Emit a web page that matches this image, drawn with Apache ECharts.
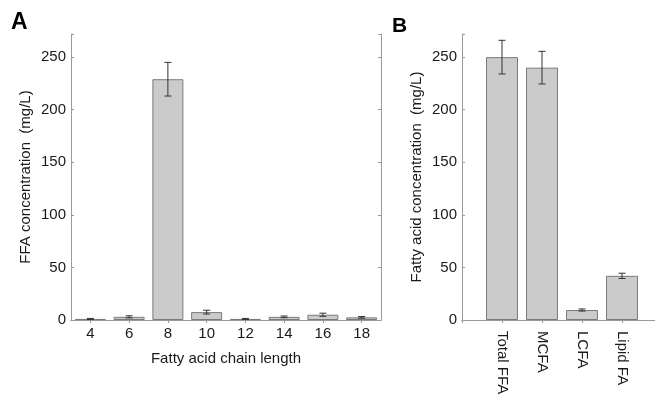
<!DOCTYPE html>
<html>
<head>
<meta charset="utf-8">
<script src="https://cdn.jsdelivr.net/npm/echarts@6/dist/echarts.min.js"></script>
<style>html,body{margin:0;padding:0;background:#fff;overflow:hidden;}#c{width:663px;height:398px;}</style>
</head>
<body>
<div id="c"></div>
<script>
// Panel A data
const chainLengths = ['4', '6', '8', '10', '12', '14', '16', '18'];
const ffaValues = [1, 3, 229, 7.5, 1, 3, 5, 2.5];
const ffaErrors = [0.5, 1, 16, 1.8, 0.5, 0.8, 1.5, 0.8];
// Panel B data
const groupNames = ['Total FFA', 'MCFA', 'LCFA', 'Lipid FA'];
const groupValues = [250, 240, 9.5, 42];
const groupErrors = [16, 15.5, 1, 2.5];
// Axis ticks
const yTickStep = 50;
const yMax = 272;

const font = 'Liberation Sans, Arial, Helvetica, sans-serif';
const axisColor = '#9a9a9a';
const textColor = '#1a1a1a';
const fs = 15;

const catsB = [''].concat(groupNames, ['']);
const valsB = [null].concat(groupValues, [null]);

function errData(vals, errs, offset) {
  return vals.map((v, i) => [i + offset, v, errs[i]]);
}
function errRender(params, api) {
  const x = api.value(0), v = api.value(1), e = api.value(2);
  const top = api.coord([x, v + e]);
  const bot = api.coord([x, v - e]);
  const cap = 3.5;
  const style = { stroke: '#333', lineWidth: 1 };
  return {
    type: 'group',
    children: [
      { type: 'line', shape: { x1: top[0], y1: top[1], x2: bot[0], y2: bot[1] }, style },
      { type: 'line', shape: { x1: top[0] - cap, y1: top[1], x2: top[0] + cap, y2: top[1] }, style },
      { type: 'line', shape: { x1: bot[0] - cap, y1: bot[1], x2: bot[0] + cap, y2: bot[1] }, style }
    ]
  };
}

const lineStyle = { color: axisColor, width: 1 };
function yAxisLeft(gi, name, gap) {
  return {
    type: 'value', gridIndex: gi, min: 0, max: yMax, interval: yTickStep, position: 'left',
    name: name, nameLocation: 'middle', nameGap: gap,
    nameTextStyle: { fontFamily: font, fontSize: fs, color: textColor },
    axisLine: { show: true, lineStyle }, axisTick: { show: true, inside: true, length: 3, lineStyle },
    axisLabel: { fontFamily: font, fontSize: fs, color: textColor, margin: 5,
      formatter: v => (v % yTickStep === 0 ? String(v) : '') },
    splitLine: { show: false }
  };
}
function yAxisRight(gi) {
  return {
    type: 'value', gridIndex: gi, min: 0, max: yMax, interval: yTickStep, position: 'right',
    axisLine: { show: true, lineStyle }, axisTick: { show: true, inside: true, length: 3, lineStyle },
    axisLabel: { show: false }, splitLine: { show: false }
  };
}

const option = {
  animation: false,
  backgroundColor: '#fff',
  graphic: [
    { type: 'text', left: 11, top: 11, style: { text: 'A', fontFamily: font, fontWeight: 'bold', fontSize: 23, fill: '#000' } },
    { type: 'text', left: 392, top: 16, style: { text: 'B', fontFamily: font, fontWeight: 'bold', fontSize: 21, fill: '#000' } }
  ],
  grid: [
    { left: 71, top: 34, width: 310, height: 286 },
    { left: 462, top: 34, width: 200, height: 286 }
  ],
  xAxis: [
    { type: 'category', gridIndex: 0, data: chainLengths, position: 'bottom',
      name: 'Fatty acid chain length', nameLocation: 'middle', nameGap: 31,
      nameTextStyle: { fontFamily: font, fontSize: fs, color: textColor },
      axisLine: { show: true, lineStyle }, axisTick: { show: false },
      axisLabel: { fontFamily: font, fontSize: fs, color: textColor, margin: 6 } },
    { type: 'category', gridIndex: 0, data: chainLengths, position: 'top',
      axisLine: { show: true, lineStyle },
      axisTick: { show: true, inside: true, length: 3, alignWithLabel: true, lineStyle },
      axisLabel: { show: false } },
    { type: 'category', gridIndex: 1, data: catsB, position: 'bottom', boundaryGap: false,
      axisLine: { show: true, lineStyle }, axisTick: { show: false },
      axisLabel: { fontFamily: font, fontSize: fs, color: textColor, rotate: -90, margin: 11, interval: 0 } },
    { type: 'category', gridIndex: 1, data: catsB, position: 'top', boundaryGap: false,
      axisLine: { show: true, lineStyle },
      axisTick: { show: true, inside: true, length: 3, interval: 0, lineStyle },
      axisLabel: { show: false } }
  ],
  yAxis: [
    yAxisLeft(0, 'FFA concentration  (mg/L)', 38),
    yAxisRight(0),
    yAxisLeft(1, 'Fatty acid concentration  (mg/L)', 38),
    yAxisRight(1)
  ],
  series: [
    { type: 'bar', xAxisIndex: 0, yAxisIndex: 0, data: ffaValues, barWidth: '80%',
      itemStyle: { color: '#cbcbcb', borderColor: '#7a7a7a', borderWidth: 1 } },
    { type: 'custom', xAxisIndex: 0, yAxisIndex: 0, data: errData(ffaValues, ffaErrors, 0),
      renderItem: errRender, z: 5 },
    { type: 'bar', xAxisIndex: 2, yAxisIndex: 2, data: valsB, barWidth: 32,
      itemStyle: { color: '#cbcbcb', borderColor: '#7a7a7a', borderWidth: 1 } },
    { type: 'custom', xAxisIndex: 2, yAxisIndex: 2, data: errData(groupValues, groupErrors, 1),
      renderItem: errRender, z: 5 }
  ]
};
const chart = echarts.init(document.getElementById('c'), null, { renderer: 'canvas' });
chart.setOption(option);
</script>
</body>
</html>
